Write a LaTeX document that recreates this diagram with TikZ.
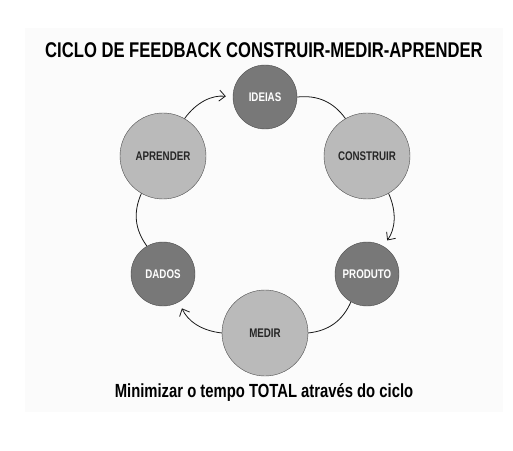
\documentclass[tikz,border=0pt]{standalone}
\usepackage{fontspec}
\newfontfamily\condfont[FakeStretch=0.78]{Liberation Sans}
\usetikzlibrary{arrows.meta}

\begin{document}
\begin{tikzpicture}[x=1pt,y=1pt]
\tikzstyle{big}=[circle, minimum size=86pt, inner sep=0pt, draw=black!70, fill=black!27, text=black!85, font=\condfont\bfseries\fontsize{12.5}{13}\selectfont]
\tikzstyle{small}=[circle, minimum size=64pt, inner sep=0pt, draw=black!70, fill=black!53, text=white, font=\condfont\bfseries\fontsize{12.5}{13}\selectfont]
\tikzstyle{link}=[thick, black!90, bend left=30]
\tikzstyle{flow}=[link, -{Straight Barb[length=6pt,width=11pt]}, shorten >=7pt]

\useasboundingbox (0,0) rectangle (513,450);
\fill[black!1.5] (25,38) rectangle (503,422);

% 1. Texts
%%%%%%%%%%
\node[font=\condfont\bfseries\fontsize{21.3}{23}\selectfont] (title) at (264,400) {CICLO DE FEEDBACK CONSTRUIR-MEDIR-APRENDER};
\node[font=\condfont\bfseries\fontsize{19}{21}\selectfont] (goal) at (264,57) {Minimizar o tempo TOTAL através do ciclo};

% 2. Nodes
%%%%%%%%%%
\node[small] (ideias) at (265,353) {IDEIAS};
\node[big] (construir) at (367,294) {CONSTRUIR};
\node[small] (produto) at (367,176) {PRODUTO};
\node[big] (medir) at (265,117) {MEDIR};
\node[small] (dados) at (163,176) {DADOS};
\node[big] (aprender) at (163,294) {APRENDER};

% 3. Arrows
%%%%%%%%%%%
\path (ideias)    edge [link] (construir)
      (construir) edge [flow] (produto)
      (produto)   edge [link] (medir)
      (medir)     edge [flow] (dados)
      (dados)     edge [link] (aprender)
      (aprender)  edge [flow] (ideias);

\end{tikzpicture}
\end{document}
